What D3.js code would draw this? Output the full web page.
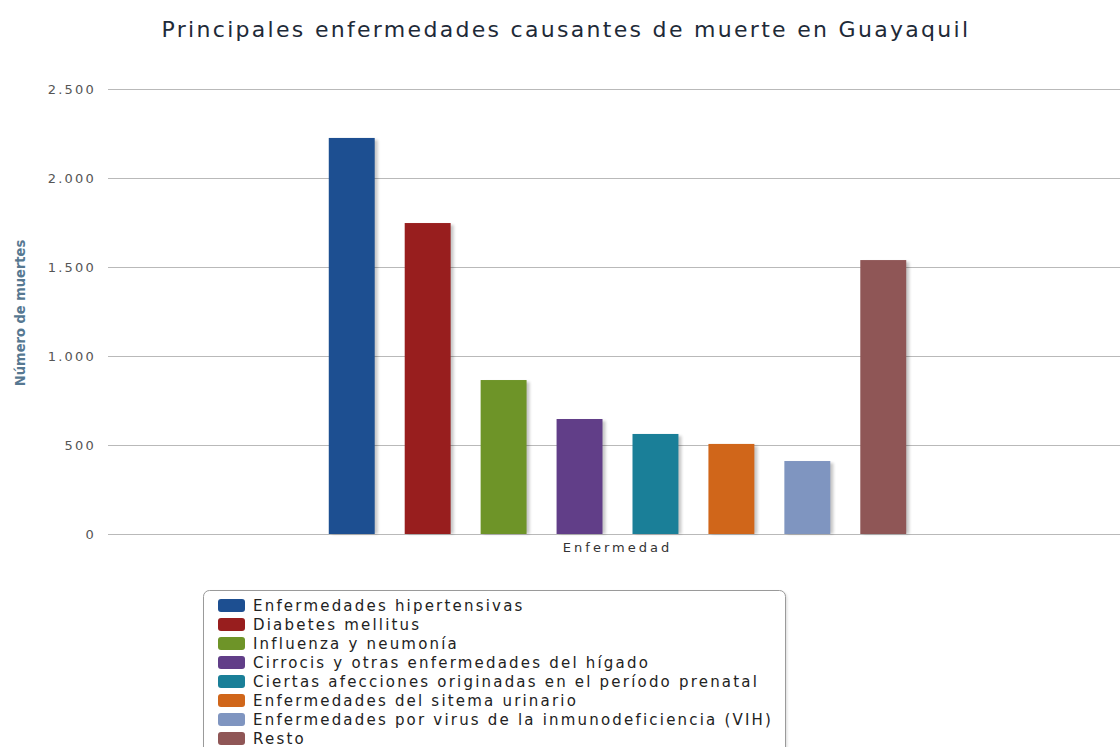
<!DOCTYPE html>
<html>
<head>
<meta charset="utf-8">
<script src="https://cdn.jsdelivr.net/npm/d3@7"></script>
<style>
  html, body { margin: 0; padding: 0; background: #fff; }
  svg { display: block; }
</style>
</head>
<body>
<svg id="chart" width="1120" height="747"></svg>
<script>
const title = "Principales enfermedades causantes de muerte en Guayaquil";
const yAxisTitle = "Número de muertes";
const category = ["Enfermedad"];
const seriesNames = [
  "Enfermedades hipertensivas",
  "Diabetes mellitus",
  "Influenza y neumonía",
  "Cirrocis y otras enfermedades del hígado",
  "Ciertas afecciones originadas en el período prenatal",
  "Enfermedades del sitema urinario",
  "Enfermedades por virus de la inmunodeficiencia (VIH)",
  "Resto"
];
const seriesValues = [2225, 1747, 865, 646, 562, 506, 410, 1539];
const seriesColors = ["#1d4f91", "#981e1e", "#6e9428", "#613e88", "#1a7f98", "#d0661a", "#7f95c0", "#8f5656"];
const yTicks = [0, 500, 1000, 1500, 2000, 2500];
const yTickLabels = ["0", "500", "1.000", "1.500", "2.000", "2.500"];

const svg = d3.select("#chart");
const defs = svg.append("defs");
const f = defs.append("filter").attr("id", "shadow").attr("x", "-20%").attr("y", "-20%").attr("width", "150%").attr("height", "150%");
f.append("feGaussianBlur").attr("stdDeviation", 1.5);

const plot = { left: 113, right: 1122, top: 89, bottom: 534 };

const y = d3.scaleLinear().domain([0, 2500]).range([plot.bottom, plot.top]);
const x0 = d3.scaleBand().domain(category).range([plot.left, plot.right]).paddingInner(0).paddingOuter(0.33);
const x1 = d3.scaleBand().domain(seriesNames).range([0, x0.bandwidth()]).paddingInner(0.395).paddingOuter(0.2);

// title
svg.append("text")
  .attr("x", 566).attr("y", 37)
  .attr("text-anchor", "middle")
  .attr("font-family", "DejaVu Sans")
  .attr("font-size", 22)
  .attr("letter-spacing", 2.3)
  .attr("fill", "#1e2a38")
  .text(title);

// gridlines
const grid = svg.append("g");
grid.selectAll("line").data(yTicks).join("line")
  .attr("x1", plot.left - 5).attr("x2", 1120)
  .attr("y1", d => Math.round(y(d)) + 0.5).attr("y2", d => Math.round(y(d)) + 0.5)
  .attr("stroke", "#b9b9b9").attr("stroke-width", 1);

// y axis labels via d3 axis
const yAxis = d3.axisLeft(y).tickValues(yTicks).tickSize(0).tickPadding(0)
  .tickFormat((d, i) => yTickLabels[i]);
const gy = svg.append("g").attr("transform", `translate(96,0)`).call(yAxis);
gy.select(".domain").remove();
gy.selectAll("text")
  .attr("font-family", "DejaVu Sans")
  .attr("font-size", 13)
  .attr("letter-spacing", 2.2)
  .attr("fill", "#555");

// y axis title
svg.append("text")
  .attr("transform", `translate(25,313) rotate(-90)`)
  .attr("text-anchor", "middle")
  .attr("font-family", "DejaVu Sans Condensed, DejaVu Sans")
  .attr("font-weight", "bold")
  .attr("font-size", 14.5)
  .attr("fill", "#567891")
  .text(yAxisTitle);

// bars
const g = svg.append("g").attr("transform", `translate(${x0(category[0])},0)`);
const data = seriesNames.map((n, i) => ({ name: n, value: seriesValues[i], color: seriesColors[i] }));
g.selectAll("rect.sh").data(data).join("rect")
  .attr("class", "sh")
  .attr("x", d => x1(d.name) + 3)
  .attr("y", d => y(d.value) + 2)
  .attr("width", x1.bandwidth())
  .attr("height", d => y(0) - y(d.value) - 2)
  .attr("fill", "#000").attr("opacity", 0.22)
  .attr("filter", "url(#shadow)");
g.selectAll("rect.bar").data(data).join("rect")
  .attr("class", "bar")
  .attr("x", d => x1(d.name))
  .attr("y", d => y(d.value))
  .attr("width", x1.bandwidth())
  .attr("height", d => y(0) - y(d.value))
  .attr("fill", d => d.color);

// x axis category label
const xAxis = d3.axisBottom(x0).tickSize(0).tickPadding(0);
const gx = svg.append("g").attr("transform", `translate(0,${plot.bottom + 18})`).call(xAxis);
gx.select(".domain").remove();
gx.selectAll("text")
  .attr("font-family", "DejaVu Sans")
  .attr("font-size", 13)
  .attr("letter-spacing", 3)
  .attr("fill", "#333")
  .attr("dy", 0);

// legend
const lg = svg.append("g").attr("transform", "translate(203,590)");
lg.append("rect")
  .attr("x", 2).attr("y", 2).attr("width", 582).attr("height", 180).attr("rx", 6)
  .attr("fill", "#000").attr("opacity", 0.15).attr("filter", "url(#shadow)");
lg.append("rect")
  .attr("x", 0.5).attr("y", 0.5).attr("width", 582).attr("height", 180).attr("rx", 6)
  .attr("fill", "#fff").attr("stroke", "#9a9a9a");
const items = lg.selectAll("g.item").data(data).join("g")
  .attr("class", "item")
  .attr("transform", (d, i) => `translate(15,${9 + i * 19})`);
items.append("rect")
  .attr("width", 27).attr("height", 13).attr("rx", 3)
  .attr("fill", d => d.color);
items.append("text")
  .attr("x", 35).attr("y", 12)
  .attr("font-family", "DejaVu Sans")
  .attr("font-size", 15)
  .attr("letter-spacing", 2.2)
  .attr("fill", "#222")
  .text(d => d.name);
</script>
</body>
</html>
